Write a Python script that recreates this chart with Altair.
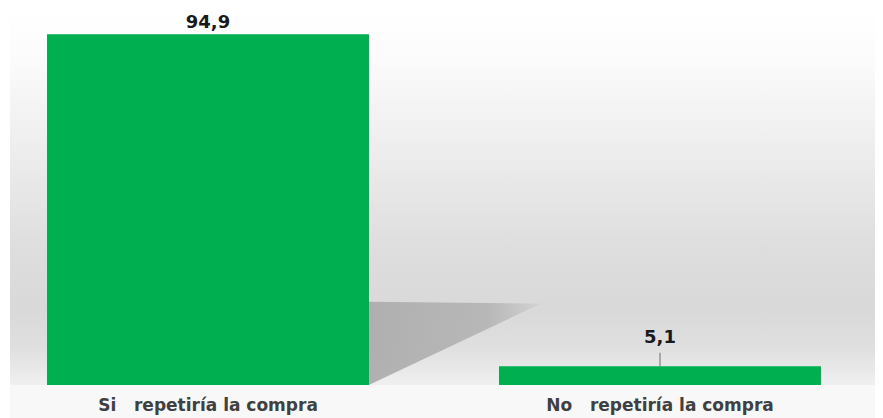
import altair as alt
import pandas as pd

categories = ["Si\u00a0\u00a0\u00a0repetiría la compra", "No\u00a0\u00a0\u00a0repetiría la compra"]
values = [94.9, 5.1]
labels = ["94,9", "5,1"]

# shadow behind first bar (x in category-slot units, y in value units)
shadow_x = [0.847, 1.25]
shadow_top = [22.5, 22.0]
shadow_bottom = [0.0, 22.0]

W, H = 852, 377
GREEN = "#00b050"

df = pd.DataFrame({"cat": categories, "val": values, "lab": labels})
shadow = pd.DataFrame({"sx": shadow_x, "st": shadow_top, "sb": shadow_bottom})

yscale = alt.Scale(domain=[0, 102], nice=False, zero=True)
xscale = alt.Scale(paddingInner=0.2876, paddingOuter=0.0863)
x_enc = alt.X("cat:N", sort=categories, scale=xscale,
              axis=alt.Axis(title=None, ticks=False, domain=False, labelAngle=0,
                            labelPadding=12, labelFont="DejaVu Sans", labelFontSize=17,
                            labelFontWeight="bold", labelColor="#404040", labelLimit=500,
                            zindex=2))

bg = alt.Chart(df).mark_rect(
    fill=alt.Gradient(gradient="linear", x1=0, x2=0, y1=0, y2=1, stops=[
        alt.GradientStop(offset=0.0, color="#ffffff"),
        alt.GradientStop(offset=0.12, color="#fcfcfc"),
        alt.GradientStop(offset=0.38, color="#ededed"),
        alt.GradientStop(offset=0.65, color="#dddddd"),
        alt.GradientStop(offset=0.80, color="#d9d9d9"),
        alt.GradientStop(offset=0.90, color="#dfdfdf"),
        alt.GradientStop(offset=1.0, color="#f0f0f0"),
    ])
).encode(x=alt.value(2), x2=alt.value(W + 15), y=alt.value(0), y2=alt.value(H))

floor = alt.Chart(df).mark_rect(fill="#f8f8f8").encode(
    x=alt.value(2), x2=alt.value(W + 15), y=alt.value(H), y2=alt.value(H + 34))

shadow_layer = alt.Chart(shadow).mark_area(
    fill=alt.Gradient(gradient="linear", x1=0, x2=1, y1=0, y2=0, stops=[
        alt.GradientStop(offset=0.0, color="#adadad"),
        alt.GradientStop(offset=0.7, color="#b6b6b6"),
        alt.GradientStop(offset=1.0, color="#d2d2d2"),
    ]), opacity=0.95
).encode(
    x=alt.X("sx:Q", scale=alt.Scale(domain=[0, 2], nice=False, zero=False), axis=None),
    y=alt.Y("st:Q", scale=yscale, axis=None),
    y2="sb:Q",
)

leader = alt.Chart(df).transform_filter(alt.datum.val < 50).transform_calculate(
    top="datum.val + 3.6").mark_rule(color="#808080", strokeWidth=1.2).encode(
    x=x_enc, y=alt.Y("val:Q", scale=yscale, axis=None), y2="top:Q")

bars = alt.Chart(df).mark_bar(color=GREEN, cornerRadius=0).encode(
    x=x_enc, y=alt.Y("val:Q", scale=yscale, axis=None))

txt_style = dict(font="DejaVu Sans", fontSize=18, fontWeight="bold", color="#1a1a1a",
                 baseline="alphabetic", align="center")
t1 = alt.Chart(df).transform_filter(alt.datum.val >= 50).mark_text(dy=-6, **txt_style).encode(
    x=x_enc, y=alt.Y("val:Q", scale=yscale, axis=None), text="lab:N")
t2 = alt.Chart(df).transform_filter(alt.datum.val < 50).mark_text(dy=-23, **txt_style).encode(
    x=x_enc, y=alt.Y("val:Q", scale=yscale, axis=None), text="lab:N")

main = alt.layer(leader, bars, t1, t2)
chart = alt.layer(bg, floor, shadow_layer, main).resolve_scale(x="independent").properties(
    width=W, height=H,
    autosize=alt.AutoSizeParams(type="none"),
    padding={"left": 0, "top": 0, "right": 15, "bottom": 34},
).configure_view(stroke=None).configure_axis(grid=False)

chart.save("out.html", embed_options={"renderer": "svg", "actions": False})
